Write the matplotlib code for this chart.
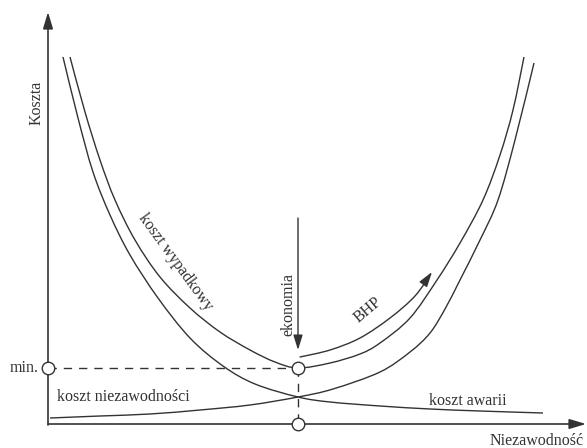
import numpy as np
import matplotlib
matplotlib.use("Agg")
import matplotlib.pyplot as plt
from matplotlib.path import Path
from matplotlib.patches import PathPatch, FancyArrowPatch

# ---- data (reliability on x, cost on y; origin at the axes crossing) ----
awarii_x = [15, 30, 45, 62, 82, 110, 142, 175, 207, 250, 282, 332, 382, 432, 495]
awarii_y = [367, 306, 252, 209, 169, 126, 86, 58, 40, 27, 22, 18, 15, 13, 11]

niezawodnosci_x = [2, 52, 102, 152, 202, 250, 285, 332, 362, 382, 397, 412, 432, 450, 467, 486]
niezawodnosci_y = [6, 8, 10, 14, 19, 27, 35, 52, 72, 91, 115, 144, 184, 224, 284, 361]

wypadkowy_x = [22, 37, 52, 67, 87, 112, 142, 172, 202, 227, 250, 282, 312, 332, 362,
               389, 412, 435, 452, 465, 476]
wypadkowy_y = [367, 312, 264, 224, 184, 147, 116, 92, 74, 62, 56, 61, 70, 81, 106,
               144, 181, 224, 269, 314, 367]

bhp_x = [252, 282, 312, 342, 367, 384]
bhp_y = [67, 74, 86, 106, 128, 152]

opt_x = 250          # economic optimum (reliability)
min_cost = 56        # minimal total cost
ekon_top = 206       # top of the "ekonomia" arrow
ekon_tip = 74

labels = {
    "y": "Koszta",
    "x": "Niezawodność",
    "min": "min.",
    "niez": "koszt niezawodności",
    "awarii": "koszt awarii",
    "wyp": "koszt wypadkowy",
    "ekon": "ekonomia",
    "bhp": "BHP",
}

INK = "#333333"
FONT = "Liberation Serif"


def smooth(xs, ys):
    P = np.column_stack([xs, ys]).astype(float)
    n = len(P)
    verts = [P[0]]
    codes = [Path.MOVETO]
    for i in range(n - 1):
        p0 = P[i - 1] if i > 0 else P[i]
        p1 = P[i]
        p2 = P[i + 1]
        p3 = P[i + 2] if i + 2 < n else P[i + 1]
        c1 = p1 + (p2 - p0) / 6.0
        c2 = p2 - (p3 - p1) / 6.0
        verts += [c1, c2, p2]
        codes += [Path.CURVE4] * 3
    return Path(verts, codes)


fig = plt.figure(figsize=(5.87, 4.48), dpi=100)
ax = fig.add_axes([0, 0, 1, 1])
ax.set_xlim(-48, 539)
ax.set_ylim(-24, 424)
ax.axis("off")

lw = 1.0
for xs, ys in [(awarii_x, awarii_y), (niezawodnosci_x, niezawodnosci_y),
               (wypadkowy_x, wypadkowy_y)]:
    ax.add_patch(PathPatch(smooth(xs, ys), fill=False, ec=INK, lw=lw))

# BHP arrow
ax.add_patch(FancyArrowPatch(path=smooth(bhp_x, bhp_y),
                             arrowstyle="-|>,head_length=0.9,head_width=0.28",
                             mutation_scale=10, color=INK, lw=lw))

# ekonomia arrow
ax.annotate("", xy=(opt_x, ekon_tip), xytext=(opt_x, ekon_top),
            arrowprops=dict(arrowstyle="-|>,head_length=0.9,head_width=0.28",
                            mutation_scale=10, color=INK, lw=lw,
                            shrinkA=0, shrinkB=0))

# axes with arrows
ax.annotate("", xy=(0, 412), xytext=(0, -1),
            arrowprops=dict(arrowstyle="-|>,head_length=1.0,head_width=0.3",
                            mutation_scale=10, color=INK, lw=1.2,
                            shrinkA=0, shrinkB=0))
ax.annotate("", xy=(538, 0), xytext=(0, 0),
            arrowprops=dict(arrowstyle="-|>,head_length=1.0,head_width=0.3",
                            mutation_scale=10, color=INK, lw=1.2,
                            shrinkA=0, shrinkB=0))

# dashed guide lines
ax.plot([0, opt_x], [min_cost, min_cost], ls=(0, (6, 5)), color=INK, lw=1.0)
ax.plot([opt_x, opt_x], [min_cost, 0], ls=(0, (6, 5)), color=INK, lw=1.0)

# circles
ax.plot([0, opt_x, opt_x], [min_cost, min_cost, 0], ls="none", marker="o",
        ms=9, mfc="white", mec=INK, mew=1.0, zorder=5)

tk = dict(color=INK, family=FONT, fontsize=11.5)
ax.text(-9, min_cost, labels["min"], ha="right", va="center", **tk)
ax.text(-11, 321, labels["y"], ha="center", va="center", rotation=90, **tk)
ax.text(442, -17, labels["x"], ha="left", va="center", **tk)
ax.text(9, 27, labels["niez"], ha="left", va="center", **tk)
ax.text(381, 23, labels["awarii"], ha="left", va="center", **tk)
ax.text(127, 162, labels["wyp"], ha="center", va="center", rotation=-54,
        rotation_mode="anchor", **tk)
ax.text(240, 120, labels["ekon"], ha="center", va="center", rotation=90, **tk)
ax.text(320, 114, labels["bhp"], ha="center", va="center", rotation=40,
        rotation_mode="anchor", **tk)

fig.savefig("out.png", dpi=100)
